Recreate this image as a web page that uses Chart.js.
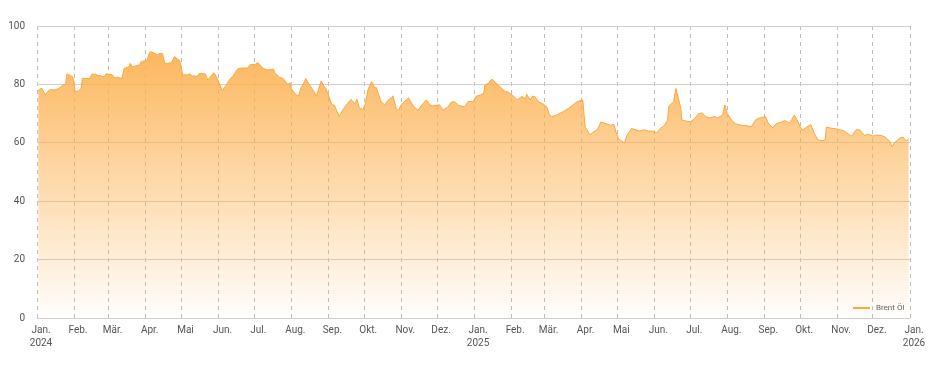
<!DOCTYPE html>
<html>
<head>
<meta charset="utf-8">
<script src="https://cdn.jsdelivr.net/npm/chart.js@4.4.1/dist/chart.umd.min.js"></script>
<style>
  html, body { margin: 0; padding: 0; background: #fff; }
  #wrap { width: 930px; height: 370px; }
</style>
</head>
<body>
<div id="wrap"><canvas id="chart"></canvas></div>
<script>
// Brent Öl, Schlusskurse, USD
const dates2024 = [
  '01-02','01-03','01-05','01-08','01-10','01-12','01-16','01-19','01-23','01-25',
  '01-26','01-29','01-31','02-02','02-05','02-07','02-08','02-12','02-14','02-16',
  '02-19','02-21','02-23','02-26','02-28','03-01','03-04','03-06','03-08','03-12',
  '03-14','03-18','03-19','03-21','03-25','03-27','03-28','04-02','04-04','04-05',
  '04-09','04-11','04-12','04-15','04-17','04-19','04-22','04-24','04-25','04-29',
  '04-30','05-02','05-06','05-08','05-10','05-14','05-16','05-21','05-23','05-28',
  '05-29','05-31','06-04','06-07','06-10','06-13','06-17','06-20','06-25','06-28',
  '07-02','07-04','07-08','07-11','07-15','07-17','07-18','07-22','07-25','07-29',
  '07-31','08-01','08-05','08-07','08-09','08-12','08-13','08-16','08-20','08-22',
  '08-26','08-28','08-30','09-04','09-06','09-10','09-13','09-17','09-20','09-23',
  '09-25','09-27','09-30','10-02','10-04','10-07','10-08','10-10','10-11','10-15',
  '10-18','10-22','10-24','10-25','10-28','10-30','11-01','11-06','11-07','11-12',
  '11-15','11-19','11-22','11-25','11-27','12-03','12-06','12-10','12-13','12-16',
  '12-19','12-24','12-27','12-31'
];
const brent2024 = [
  77.5, 78.3, 78.7, 76.4, 77.6, 78.2, 78.1, 78.6, 79.8, 80.0,
  83.6, 83.0, 82.6, 77.5, 77.8, 78.7, 82.1, 82.0, 82.0, 83.5,
  83.5, 83.0, 83.0, 82.5, 83.7, 83.5, 83.3, 82.2, 82.5, 82.0,
  85.5, 86.0, 87.2, 86.0, 86.5, 86.6, 87.7, 88.3, 90.6, 91.2,
  90.6, 90.0, 90.5, 90.6, 87.3, 87.2, 87.4, 88.4, 89.5, 88.3,
  87.5, 83.2, 83.3, 83.6, 82.9, 82.8, 83.7, 83.6, 81.5, 84.0,
  83.5, 82.0, 78.0, 79.5, 81.5, 82.8, 85.3, 85.6, 85.6, 86.8,
  86.9, 87.5, 85.6, 85.0, 85.0, 85.3, 84.0, 82.5, 82.0, 80.0,
  80.5, 78.5, 76.4, 76.0, 78.7, 81.0, 82.0, 80.0, 77.5, 75.9,
  81.2, 79.5, 78.5, 73.0, 72.9, 69.0, 71.2, 73.5, 74.9, 73.4,
  74.9, 71.8, 71.4, 73.5, 78.0, 80.9, 80.5, 78.7, 79.0, 74.2,
  73.0, 75.0, 75.4, 76.1, 71.4, 71.2, 73.1, 75.0, 75.4, 72.1,
  71.2, 73.3, 74.7, 73.0, 72.6, 73.0, 71.2, 72.2, 74.0, 74.0,
  72.8, 72.3, 74.2, 74.0
];
const dates2025 = [
  '01-03','01-06','01-09','01-10','01-13','01-15','01-16','01-20','01-22','01-27',
  '01-29','02-03','02-06','02-10','02-13','02-14','02-17','02-19','02-21','02-24',
  '02-27','03-03','03-05','03-07','03-11','03-14','03-18','03-21','03-25','03-28',
  '04-02','04-03','04-04','04-08','04-10','04-14','04-16','04-17','04-22','04-25',
  '04-28','04-30','05-02','05-05','05-07','05-09','05-13','05-14','05-20','05-23',
  '05-27','05-30','06-03','06-06','06-09','06-12','06-13','06-17','06-19','06-20',
  '06-23','06-24','06-27','07-01','07-04','07-08','07-11','07-14','07-17','07-21',
  '07-24','07-28','07-30','08-01','08-05','08-08','08-13','08-18','08-21','08-25',
  '08-28','09-02','09-04','09-08','09-11','09-15','09-18','09-22','09-24','09-26',
  '09-29','10-01','10-03','10-07','10-10','10-13','10-16','10-20','10-22','10-23',
  '10-27','10-31','11-04','11-07','11-12','11-13','11-17','11-20','11-24','11-27',
  '12-01','12-04','12-08','12-11','12-15','12-17','12-19','12-23','12-26','12-29',
  '12-31'
];
const brent2025 = [
  76.0, 76.3, 76.9, 79.8, 80.3, 81.5, 81.8, 80.2, 79.5, 77.5,
  77.5, 76.0, 74.7, 75.9, 75.0, 76.6, 74.7, 76.0, 75.8, 74.0,
  73.5, 72.3, 69.5, 69.0, 69.5, 70.1, 71.0, 71.8, 73.0, 74.0,
  74.7, 70.0, 65.5, 62.7, 63.5, 64.4, 66.0, 67.1, 66.5, 66.0,
  66.3, 63.5, 61.3, 60.5, 60.0, 62.6, 65.0, 64.7, 64.0, 64.5,
  64.0, 64.0, 63.4, 65.0, 65.7, 67.8, 72.5, 74.0, 78.6, 77.0,
  72.0, 67.8, 67.5, 67.2, 68.0, 70.0, 70.2, 69.0, 68.5, 69.0,
  68.5, 69.5, 73.0, 70.0, 67.5, 66.5, 66.0, 65.8, 65.5, 68.0,
  68.5, 68.9, 67.0, 65.0, 66.5, 67.0, 67.6, 66.8, 68.0, 69.5,
  67.5, 65.5, 64.4, 65.5, 66.2, 63.0, 61.0, 60.7, 61.0, 65.4,
  65.0, 64.8, 64.4, 64.0, 62.5, 62.3, 64.5, 64.4, 62.5, 63.0,
  62.3, 62.6, 62.5, 62.0, 60.5, 58.6, 60.0, 61.5, 62.0, 60.6,
  61.4
];

const monthTicks = [
  '2024-01-01','2024-02-01','2024-03-01','2024-04-01','2024-05-01','2024-06-01',
  '2024-07-01','2024-08-01','2024-09-01','2024-10-01','2024-11-01','2024-12-01',
  '2025-01-01','2025-02-01','2025-03-01','2025-04-01','2025-05-01','2025-06-01',
  '2025-07-01','2025-08-01','2025-09-01','2025-10-01','2025-11-01','2025-12-01',
  '2026-01-01'
];
const monthLabels = ['Jan.','Feb.','Mär.','Apr.','Mai','Jun.','Jul.','Aug.','Sep.','Okt.','Nov.','Dez.'];
const yearLabels = { 0: '2024', 12: '2025', 24: '2026' };
const yTicks = [0, 20, 40, 60, 80, 100];

const DAY = 86400000;
const t0 = Date.UTC(2024, 0, 1);
function dayOf(s) {
  return (Date.parse(s + 'T00:00:00Z') - t0) / DAY;
}

const points = dates2024.map((d, i) => ({ x: dayOf('2024-' + d), y: brent2024[i] }))
  .concat(dates2025.map((d, i) => ({ x: dayOf('2025-' + d), y: brent2025[i] })));

const fontFamily = 'Roboto, "Noto Sans", sans-serif';

const insideLegend = {
  id: 'insideLegend',
  afterDatasetsDraw(chart) {
    const { ctx, chartArea } = chart;
    const ds = chart.data.datasets[0];
    const x = chartArea.right - 57;
    const y = chartArea.bottom - 10;
    ctx.save();
    ctx.strokeStyle = '#f9a73e';
    ctx.lineWidth = 2;
    ctx.beginPath();
    ctx.moveTo(x, y);
    ctx.lineTo(x + 17, y);
    ctx.stroke();
    ctx.fillStyle = '#666';
    ctx.font = '8px ' + fontFamily;
    ctx.textBaseline = 'middle';
    ctx.fillText(ds.label, x + 23, y);
    ctx.restore();
  }
};

new Chart(document.getElementById('chart'), {
  type: 'line',
  data: {
    datasets: [{
      label: 'Brent Öl',
      data: points,
      borderColor: '#f9a73e',
      borderWidth: 1,
      pointRadius: 0,
      tension: 0,
      fill: 'origin',
      backgroundColor: (c) => {
        const area = c.chart.chartArea;
        if (!area) return 'rgba(252,178,80,0.5)';
        const g = c.chart.ctx.createLinearGradient(0, area.top, 0, area.bottom);
        g.addColorStop(0, 'rgba(252,176,78,1)');
        g.addColorStop(1, 'rgba(252,176,78,0.02)');
        return g;
      }
    }]
  },
  options: {
    responsive: true,
    maintainAspectRatio: false,
    animation: false,
    layout: { padding: { left: 0, right: 20, top: 26, bottom: 0 } },
    plugins: {
      legend: { display: false },
      tooltip: { enabled: false }
    },
    scales: {
      x: {
        type: 'linear',
        min: 0,
        max: dayOf('2026-01-01'),
        afterBuildTicks: (s) => { s.ticks = monthTicks.map(d => ({ value: dayOf(d) })); },
        afterFit: (s) => { s.height = 52; },
        ticks: {
          autoSkip: false,
          maxRotation: 0,
          padding: 6,
          labelOffset: 4,
          color: '#555',
          font: { family: fontFamily, size: 10, lineHeight: 1.3 },
          callback: (v, i) => {
            const m = monthLabels[i % 12];
            return yearLabels[i] ? [m, yearLabels[i]] : m;
          }
        },
        grid: { color: '#bdbdbd', drawTicks: false },
        border: { display: false, dash: [4, 4] }
      },
      y: {
        min: 0,
        max: 100,
        afterBuildTicks: (s) => { s.ticks = yTicks.map(v => ({ value: v })); },
        afterFit: (s) => { s.width = 37; },
        ticks: {
          padding: 12,
          color: '#555',
          font: { family: fontFamily, size: 10 }
        },
        grid: { color: '#cfcfcf', drawTicks: false },
        border: { display: false }
      }
    }
  },
  plugins: [insideLegend]
});
</script>
</body>
</html>
